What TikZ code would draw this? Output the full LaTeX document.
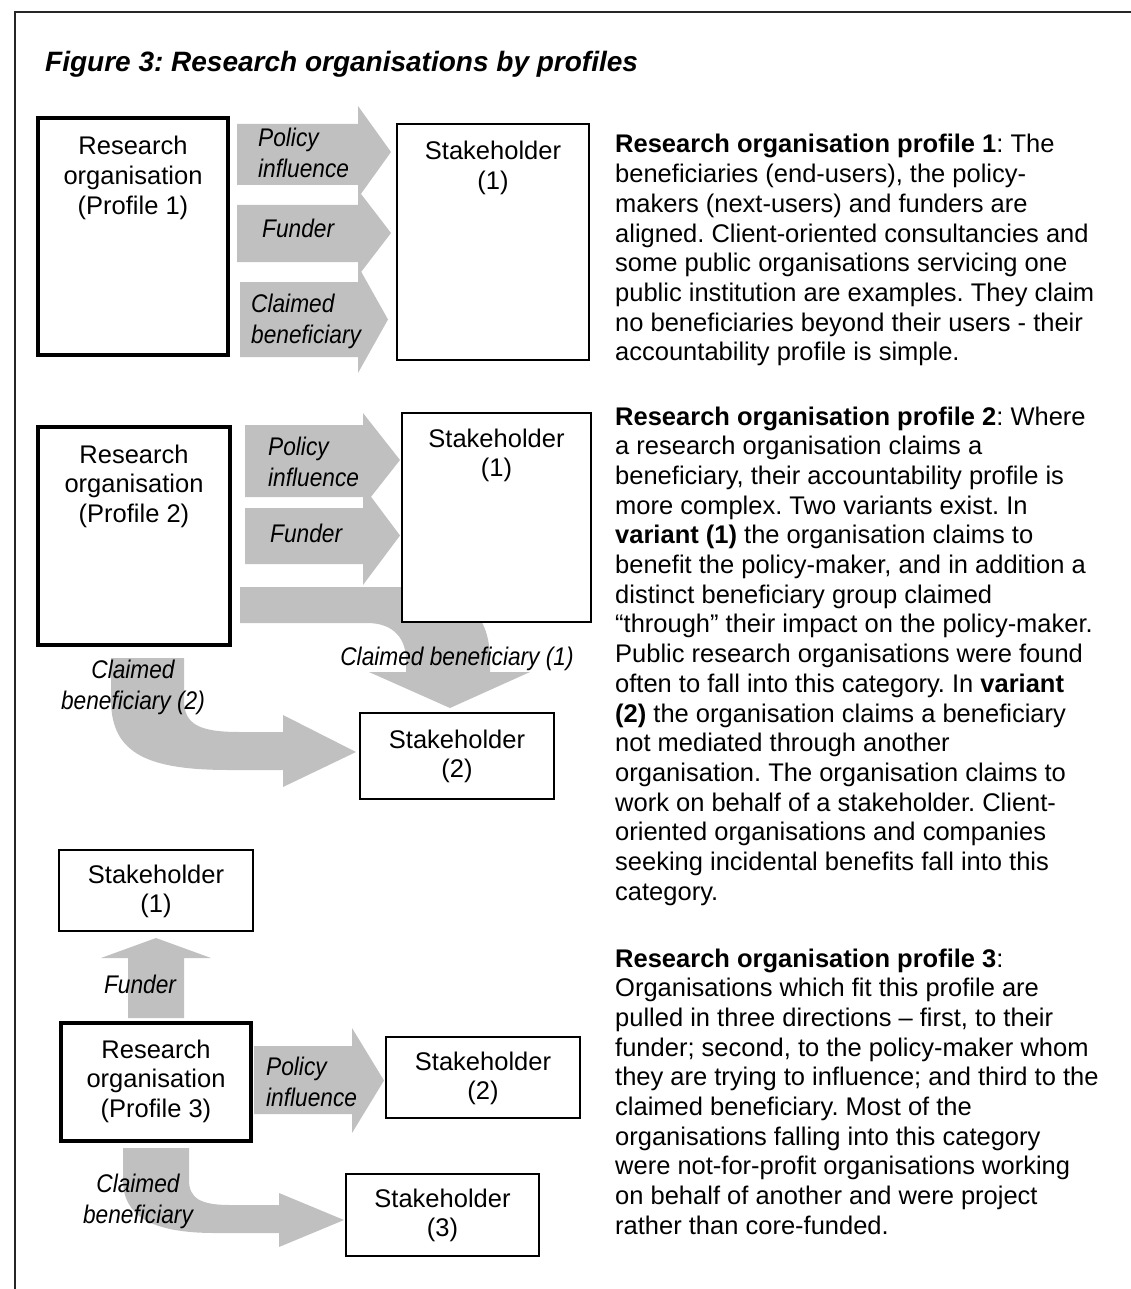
\documentclass[tikz,border=0pt]{standalone}
\usepackage{fontspec}
\setmainfont{Liberation Sans}
\newfontfamily\lblfont{Liberation Sans}[FakeStretch=0.89]
\usetikzlibrary{calc}
\frenchspacing
\definecolor{agray}{RGB}{192,192,192}
\newcommand{\ctab}[1]{\begin{tabular}[t]{@{}c@{}}#1\end{tabular}}
\newcommand{\ltab}[1]{\begin{tabular}[t]{@{}l@{}}#1\end{tabular}}
\tikzset{
  frameline/.style={line width=1.5pt, black!85},
  robox/.style={draw, line width=3.5pt, fill=white, inner sep=0pt},
  shbox/.style={draw, line width=1.7pt, fill=white, inner sep=0pt},
  btext/.style={anchor=base, inner sep=0pt, font=\fontsize{25.5}{29.6}\selectfont},
  lbl/.style={inner sep=0pt, font=\lblfont\itshape\fontsize{25.5}{31}\selectfont},
  para/.style={anchor=base west, inner sep=0pt, font=\fontsize{25.5}{29.7}\selectfont},
  blk/.style={fill=agray},
  titletext/.style={anchor=base west, inner sep=0pt, font=\bfseries\itshape\fontsize{28}{32}\selectfont}
}
\begin{document}
\begin{tikzpicture}[x=1pt,y=-1pt]
\useasboundingbox (0,0) rectangle (1131,1289);
% frame
\coordinate (fl) at (15,1289);
\coordinate (ftl) at (15,12);
\coordinate (ftr) at (1131,12);
\draw[frameline] (fl) -- (ftl) -- (ftr);
% title
\node[titletext] (title) at (45,72) {Figure 3: Research organisations by profiles};

% ---------- Profile 1 arrows
\fill[blk] (237,124) -- (358,124) -- (358,106) -- (391,152) -- (358,198) -- (358,185) -- (237,185) -- cycle;
\fill[blk] (237,205) -- (358,205) -- (358,190) -- (391,233) -- (358,276) -- (358,262) -- (237,262) -- cycle;
\fill[blk] (240,282) -- (358,282) -- (358,266) -- (388,319.5) -- (358,373) -- (358,357) -- (240,357) -- cycle;

% ---------- Profile 2 arrows
\fill[blk] (245,425) -- (363,425) -- (363,413) -- (400,460) -- (363,507) -- (363,497) -- (245,497) -- cycle;
\fill[blk] (245,508) -- (363,508) -- (363,486) -- (400,535.5) -- (363,585) -- (363,564) -- (245,564) -- cycle;
% claimed beneficiary (1): bent arrow
\fill[blk] (240,587) -- (400,587) .. controls (460,587) and (490,610) .. (490,660) -- (490,672)
  -- (530,672) -- (450,708) -- (369,672) -- (406,672) -- (406,660)
  .. controls (406,640) and (395,623) .. (367,623) -- (240,623) -- cycle;
% claimed beneficiary (2): bent arrow
\fill[blk] (184,658) -- (184,700) .. controls (184,725) and (200,732) .. (240,732) -- (283,732)
  -- (283,715) -- (356,752) -- (283,787) -- (283,770) -- (230,770)
  .. controls (150,770) and (111,755) .. (111,700) -- (111,658) -- cycle;

% ---------- Profile 3 arrows
\fill[blk] (128,1018) -- (128,958) -- (101,958) -- (156,938) -- (211,958) -- (184,958) -- (184,1018) -- cycle;
\fill[blk] (254,1046) -- (352,1046) -- (352,1028) -- (384,1080.5) -- (352,1133) -- (352,1114) -- (254,1114) -- cycle;
\fill[blk] (189,1148) -- (189,1180) .. controls (189,1198) and (200,1205) .. (230,1205) -- (279,1205)
  -- (279,1193) -- (344,1220) -- (279,1247) -- (279,1233) -- (215,1233)
  .. controls (150,1233) and (123,1215) .. (123,1180) -- (123,1148) -- cycle;

% ---------- boxes
\node[robox, minimum width=190pt, minimum height=237pt] (ro1) at (133,236.5) {};
\node[shbox, minimum width=192pt, minimum height=236pt] (sh1a) at (493,242) {};
\node[robox, minimum width=192pt, minimum height=218pt] (ro2) at (134,536) {};
\node[shbox, minimum width=189pt, minimum height=209pt] (sh1b) at (496.5,517.5) {};
\node[shbox, minimum width=194pt, minimum height=86pt] (sh2b) at (457,756) {};
\node[shbox, minimum width=194pt, minimum height=81pt] (sh1c) at (156,890.5) {};
\node[robox, minimum width=190pt, minimum height=118pt] (ro3) at (156,1082) {};
\node[shbox, minimum width=194pt, minimum height=81pt] (sh2c) at (483,1077.5) {};
\node[shbox, minimum width=193pt, minimum height=82pt] (sh3) at (442.5,1215) {};

% ---------- box texts
\node[btext] (ro1t) at (133,155) {\ctab{Research\\organisation\\(Profile 1)}};
\node[btext] (sh1at) at (493,160) {\ctab{Stakeholder\\(1)}};
\node[btext] (ro2t) at (134,463) {\ctab{Research\\organisation\\(Profile 2)}};
\node[btext] (sh1bt) at (496.5,447) {\ctab{Stakeholder\\(1)}};
\node[btext] (sh2bt) at (457,748) {\ctab{Stakeholder\\(2)}};
\node[btext] (sh1ct) at (156,883) {\ctab{Stakeholder\\(1)}};
\node[btext] (ro3t) at (156,1058) {\ctab{Research\\organisation\\(Profile 3)}};
\node[btext] (sh2ct) at (483,1070) {\ctab{Stakeholder\\(2)}};
\node[btext] (sh3t) at (442.5,1207) {\ctab{Stakeholder\\(3)}};

% ---------- arrow labels
\node[lbl, anchor=base west] (l1a) at (258,147) {\ltab{Policy\\influence}};
\node[lbl, anchor=base west] (l1b) at (262,238) {Funder};
\node[lbl, anchor=base west] (l1c) at (251,312) {\ltab{Claimed\\beneficiary}};
\node[lbl, anchor=base west] (l2a) at (268,455) {\ltab{Policy\\influence}};
\node[lbl, anchor=base west] (l2b) at (270,542) {Funder};
\node[lbl, anchor=base] (l2c) at (457,665) {Claimed beneficiary (1)};
\node[lbl, anchor=base] (l2d) at (133,678) {\ctab{Claimed\\beneficiary (2)}};
\node[lbl, anchor=base] (l3a) at (140,993) {Funder};
\node[lbl, anchor=base west] (l3b) at (266,1075) {\ltab{Policy\\influence}};
\node[lbl, anchor=base] (l3c) at (138,1192) {\ctab{Claimed\\beneficiary}};

% ---------- descriptions
\node[para] (p1) at (615,153) {\ltab{%
\textbf{Research organisation profile 1}: The\\
beneficiaries (end-users), the policy-\\
makers (next-users) and funders are\\
aligned. Client-oriented consultancies and\\
some public organisations servicing one\\
public institution are examples. They claim\\
no beneficiaries beyond their users - their\\
accountability profile is simple.}};
\node[para] (p2) at (615,425) {\ltab{%
\textbf{Research organisation profile 2}: Where\\
a research organisation claims a\\
beneficiary, their accountability profile is\\
more complex. Two variants exist. In\\
\textbf{variant (1)} the organisation claims to\\
benefit the policy-maker, and in addition a\\
distinct beneficiary group claimed\\
“through” their impact on the policy-maker.\\
Public research organisations were found\\
often to fall into this category. In \textbf{variant}\\
\textbf{(2)} the organisation claims a beneficiary\\
not mediated through another\\
organisation. The organisation claims to\\
work on behalf of a stakeholder. Client-\\
oriented organisations and companies\\
seeking incidental benefits fall into this\\
category.}};
\node[para] (p3) at (615,967) {\ltab{%
\textbf{Research organisation profile 3}:\\
Organisations which fit this profile are\\
pulled in three directions – first, to their\\
funder; second, to the policy-maker whom\\
they are trying to influence; and third to the\\
claimed beneficiary. Most of the\\
organisations falling into this category\\
were not-for-profit organisations working\\
on behalf of another and were project\\
rather than core-funded.}};
\end{tikzpicture}
\end{document}
